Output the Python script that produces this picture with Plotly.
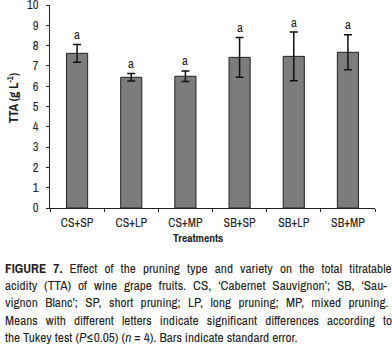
import plotly.graph_objects as go

categories = ["CS+SP", "CS+LP", "CS+MP", "SB+SP", "SB+LP", "SB+MP"]
tta = [7.62, 6.44, 6.49, 7.42, 7.47, 7.67]
se = [0.44, 0.18, 0.26, 0.98, 1.20, 0.86]
letters = ["a", "a", "a", "a", "a", "a"]
y_ticks = list(range(0, 11))

caption_lines = [
    "<b>FIGURE 7.</b> Effect of the pruning type and variety on the total titratable",
    "acidity (TTA) of wine grape fruits. CS, ‘Cabernet Sauvignon’; SB, ‘Sau-",
    "vignon Blanc’; SP, short pruning; LP, long pruning; MP, mixed pruning.",
    "Means with different letters indicate significant differences according to",
    "the Tukey test (<i>P</i>≤0.05) (<i>n</i> = 4). Bars indicate standard error.",
]
caption_word_spacing = [4.1, 3.9, 4.4, 5.1, 0]

FONT = "Archivo Narrow, Asap Condensed, DejaVu Sans, sans-serif"

fig = go.Figure()
fig.add_trace(go.Bar(
    x=categories, y=tta,
    marker=dict(color="#7e7b7b", line=dict(color="#222222", width=1)),
    width=0.39,
    error_y=dict(type="data", array=se, visible=True, color="#111111",
                 thickness=1.5, width=4),
))

for c, v, e, l in zip(categories, tta, se, letters):
    fig.add_annotation(x=c, y=v + e, text=l, showarrow=False, yshift=10,
                       yanchor="middle",
                       font=dict(family=FONT, size=13, color="#222"))

fig.update_layout(
    width=392, height=348,
    margin=dict(l=50, r=17, t=5, b=140),
    paper_bgcolor="white", plot_bgcolor="white",
    showlegend=False,
    font=dict(family=FONT, size=12, color="#222"),
)
fig.update_yaxes(range=[0, 10], tickvals=y_ticks, showline=True, linecolor="#222",
                 linewidth=1, ticks="outside", ticklen=3, tickcolor="#222",
                 showgrid=False, zeroline=False, tickfont=dict(size=12.5),
                 automargin=False, ticklabeloverflow="allow", ticklabelstandoff=5)
fig.update_xaxes(showline=True, linecolor="#222", linewidth=1, ticks="outside",
                 tickson="boundaries", ticklen=3, tickcolor="#222", showgrid=False,
                 tickfont=dict(size=12), automargin=False, ticklabelstandoff=4)

# axis titles
fig.add_annotation(xref="paper", yref="paper", x=(13 - 50) / 325, y=(208 - 98) / 203,
                   xanchor="center", yanchor="middle",
                   text="<b>TTA (g L<sup>-1</sup>)</b>",
                   textangle=-90, showarrow=False, font=dict(family=FONT, size=12.5))
fig.add_annotation(xref="paper", yref="paper", x=(197.5 - 50) / 325, y=0, yshift=-30,
                   xanchor="center", yanchor="middle", text="<b>Treatments</b>",
                   showarrow=False, font=dict(family=FONT, size=11.5))

y0 = 268
for i, (line, ws) in enumerate(zip(caption_lines, caption_word_spacing)):
    fig.add_annotation(xref="paper", yref="paper", x=(3 - 50) / 325, xanchor="left",
                       y=0, yshift=-((y0 + i * 17.2) - 208), yanchor="middle",
                       text=f'<span style="word-spacing:{ws}px">{line}</span>',
                       showarrow=False, align="left",
                       font=dict(family=FONT, size=13.3, color="#222"))

fig.write_html("out.html", config={"displayModeBar": False},
               post_script="document.body.style.margin='0';")
